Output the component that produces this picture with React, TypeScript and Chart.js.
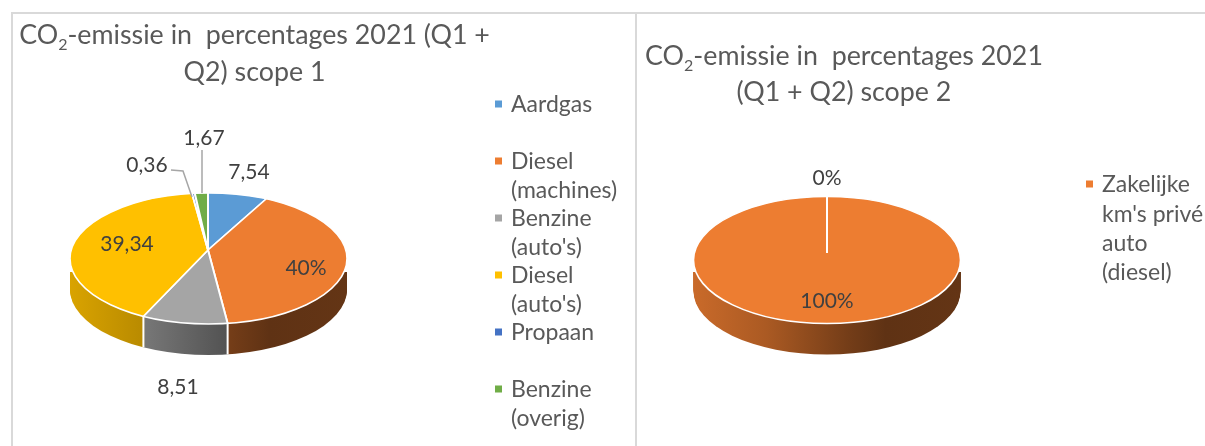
import React, { useEffect, useRef } from "react";
import { Chart, registerables } from "chart.js";

Chart.register(...registerables);

const FONT = "Lato, Carlito, sans-serif";
const TEXT = "#595959";
const LABEL = "#404040";

// ---- data, scope 1
const categories1 = ["Aardgas", "Diesel (machines)", "Benzine (auto's)", "Diesel (auto's)", "Propaan", "Benzine (overig)"];
const values1 = [7.54, 38.5, 8.51, 39.34, 0.36, 1.67];
const valueLabels1 = ["7,54", "40%", "8,51", "39,34", "0,36", "1,67"];
const colors1 = ["#5B9BD5", "#ED7D31", "#A5A5A5", "#FFC000", "#4472C4", "#70AD47"];
const legendLines1 = [["Aardgas"], ["Diesel", "(machines)"], ["Benzine", "(auto's)"], ["Diesel", "(auto's)"], ["Propaan"], ["Benzine", "(overig)"]];

// ---- data, scope 2
const categories2 = ["", "Zakelijke km's privé auto (diesel)"];
const values2 = [0, 100];
const valueLabels2 = ["0%", "100%"];
const colors2 = ["#ED7D31", "#ED7D31"];
const legendLines2 = [[], ["Zakelijke", "km's privé", "auto", "(diesel)"]];

const title1 = ["-emissie in  percentages 2021 (Q1 +", "Q2) scope 1"];
const title2 = ["-emissie in  percentages 2021", "(Q1 + Q2) scope 2"];

// ---- layout (canvas pixels), separate from the data
const layout1 = {
  hub: [208, 250], center: [208.5, 258.5], rx: 138.5, ry: 65.5, depth: 31, wallTop: 272,
  titleX: 254.5, titleY: [35, 72],
  labels: [[249, 172], [306, 268], [178, 387], [127, 244], [147, 165], [204, 138]],
  leaders: [[[171, 170], [183, 171], [192, 197]], [[202, 150], [202, 193]]],
  legendX: 495, legendTextX: 511,
  legendY: [[105], [162, 191], [219, 248], [276, 305], [333], [390, 419]],
};
const OFF2 = 636;
const layout2 = {
  hub: [827 - OFF2, 253], center: [827 - OFF2, 260], rx: 133.5, ry: 63.5, depth: 31, wallTop: 272,
  titleX: 844 - OFF2, titleY: [56, 92],
  labels: [[827 - OFF2, 178], [827 - OFF2, 301]],
  leaders: [] as number[][][],
  legendX: 1086 - OFF2, legendTextX: 1102 - OFF2,
  legendY: [[], [185, 215, 244, 273]],
};

function hexShade(hex: string, f: number) {
  const n = parseInt(hex.slice(1), 16);
  const r = Math.round(((n >> 16) & 255) * f);
  const g = Math.round(((n >> 8) & 255) * f);
  const b = Math.round((n & 255) * f);
  return `rgb(${r},${g},${b})`;
}

const wallStops = [[0, 0.85], [0.27, 0.72], [0.58, 0.49], [0.72, 0.4], [1, 0.42]];

function makePlugin(layout: any, titleLines: string[], valueLabels: string[], legendLines: string[][], colors: string[]) {
  return {
    id: "tilted3d",
    beforeDatasetsDraw(chart: any) {
      const ctx: CanvasRenderingContext2D = chart.ctx;
      const arcs: any[] = chart.getDatasetMeta(0).data;
      const { hub, center, rx, ry, depth, wallTop } = layout;
      const k = ry / rx;
      const ax = arcs[0].x;
      const ay = arcs[0].y;
      const place = (dy: number) => {
        ctx.translate(hub[0], hub[1] + dy);
        ctx.scale(1, k);
        ctx.translate(-ax, -ay);
      };
      // gradient coordinates live in the arcs' own space
      const shift = ax - hub[0];
      const grads = colors.map((c) => {
        const g = ctx.createLinearGradient(center[0] - rx + shift, 0, center[0] + rx + shift, 0);
        wallStops.forEach(([t, f]) => g.addColorStop(t, hexShade(c, f)));
        return g;
      });
      // side wall: stacked copies of the library's own arcs
      for (let d = depth; d >= 1; d--) {
        ctx.save();
        ctx.beginPath();
        ctx.rect(0, wallTop, chart.width, chart.height - wallTop);
        ctx.clip();
        ctx.beginPath();
        ctx.ellipse(center[0], center[1] + d, rx, ry, 0, 0, Math.PI * 2);
        ctx.clip();
        place(d);
        arcs.forEach((a, i) => {
          const orig = a.options;
          a.options = { ...orig, backgroundColor: grads[i], borderWidth: 0 };
          a.draw(ctx);
          a.options = orig;
        });
        ctx.restore();
      }
      // white seams where slice boundaries meet the lower rim
      ctx.save();
      ctx.strokeStyle = "#ffffff";
      ctx.lineWidth = 2;
      arcs.forEach((a) => {
        if (a.circumference <= 0 || a.circumference >= Math.PI * 2) return;
        const ca = Math.cos(a.endAngle);
        const sa = Math.sin(a.endAngle);
        const ox = hub[0] - center[0];
        const oy = (hub[1] - center[1]) / k;
        const b = ox * ca + oy * sa;
        const t = -b + Math.sqrt(b * b - (ox * ox + oy * oy - rx * rx));
        const px = hub[0] + t * ca;
        const py = hub[1] + t * sa * k;
        if (py < wallTop) return;
        ctx.beginPath();
        ctx.moveTo(px, py);
        ctx.lineTo(px, py + depth);
        ctx.stroke();
      });
      ctx.restore();
      // top face
      ctx.save();
      ctx.beginPath();
      ctx.ellipse(center[0], center[1], rx, ry, 0, 0, Math.PI * 2);
      ctx.clip();
      place(0);
      arcs.forEach((a) => a.draw(ctx));
      ctx.restore();
      ctx.save();
      ctx.strokeStyle = "#ffffff";
      ctx.lineWidth = 1.6;
      ctx.beginPath();
      ctx.ellipse(center[0], center[1], rx, ry, 0, 0, Math.PI * 2);
      ctx.stroke();
      ctx.restore();
      return false;
    },
    afterDraw(chart: any) {
      const ctx: CanvasRenderingContext2D = chart.ctx;
      ctx.save();
      ctx.textBaseline = "middle";
      // title, with subscript
      ctx.fillStyle = TEXT;
      const titleFont = `400 26.8px ${FONT}`;
      const subFont = `400 16px ${FONT}`;
      ctx.font = titleFont;
      const wCO = ctx.measureText("CO").width;
      const wRest = ctx.measureText(titleLines[0]).width;
      ctx.font = subFont;
      const wSub = ctx.measureText("2").width;
      let x = layout.titleX - (wCO + wSub + wRest) / 2;
      ctx.textAlign = "left";
      ctx.font = titleFont;
      ctx.fillText("CO", x, layout.titleY[0]);
      x += wCO;
      ctx.font = subFont;
      ctx.fillText("2", x, layout.titleY[0] + 10);
      x += wSub;
      ctx.font = titleFont;
      ctx.fillText(titleLines[0], x, layout.titleY[0]);
      ctx.textAlign = "center";
      ctx.fillText(titleLines[1], layout.titleX, layout.titleY[1]);

      // legend
      ctx.font = `400 23px ${FONT}`;
      legendLines.forEach((lines, i) => {
        if (!lines.length) return;
        const ys = layout.legendY[i];
        ctx.fillStyle = colors[i];
        ctx.fillRect(layout.legendX, ys[0] - 4.5, 7, 7);
        ctx.fillStyle = TEXT;
        ctx.textAlign = "left";
        lines.forEach((l, j) => ctx.fillText(l, layout.legendTextX, ys[j]));
      });

      // leader lines
      ctx.strokeStyle = "#A6A6A6";
      ctx.lineWidth = 1.5;
      layout.leaders.forEach((pts: number[][]) => {
        ctx.beginPath();
        pts.forEach((p, i) => (i ? ctx.lineTo(p[0], p[1]) : ctx.moveTo(p[0], p[1])));
        ctx.stroke();
      });

      // value labels
      ctx.font = `400 21px ${FONT}`;
      ctx.fillStyle = LABEL;
      ctx.textAlign = "center";
      valueLabels.forEach((t, i) => ctx.fillText(t, layout.labels[i][0], layout.labels[i][1]));
      ctx.restore();
    },
  };
}

function makeConfig(labels: string[], data: number[], colors: string[], plugin: any) {
  return {
    type: "pie" as const,
    data: {
      labels,
      datasets: [{ data, backgroundColor: colors, borderColor: "#ffffff", borderWidth: 2 }],
    },
    options: {
      responsive: false,
      animation: false as const,
      radius: 190,
      layout: { padding: 0 },
      plugins: { legend: { display: false }, tooltip: { enabled: false }, title: { display: false } },
    },
    plugins: [plugin],
  };
}

export default function App() {
  const ref1 = useRef<HTMLCanvasElement>(null);
  const ref2 = useRef<HTMLCanvasElement>(null);
  useEffect(() => {
    const c1 = new Chart(ref1.current!, makeConfig(categories1, values1, colors1, makePlugin(layout1, title1, valueLabels1, legendLines1, colors1)) as any);
    const c2 = new Chart(ref2.current!, makeConfig(categories2, values2, colors2, makePlugin(layout2, title2, valueLabels2, legendLines2, colors2)) as any);
    return () => {
      c1.destroy();
      c2.destroy();
    };
  }, []);
  const line = "#D9D9D9";
  return (
    <div style={{ position: "fixed", left: 0, top: 0, width: 1205, height: 446, background: "#fff", overflow: "hidden" }}>
      <canvas ref={ref1} width={OFF2} height={446} style={{ position: "absolute", left: 0, top: 0 }} />
      <canvas ref={ref2} width={1205 - OFF2} height={446} style={{ position: "absolute", left: OFF2, top: 0 }} />
      <div style={{ position: "absolute", left: 11, top: 12, width: 1194, height: 2, background: line }} />
      <div style={{ position: "absolute", left: 11, top: 12, width: 2, height: 434, background: line }} />
      <div style={{ position: "absolute", left: 635, top: 12, width: 2, height: 434, background: line }} />
    </div>
  );
}
